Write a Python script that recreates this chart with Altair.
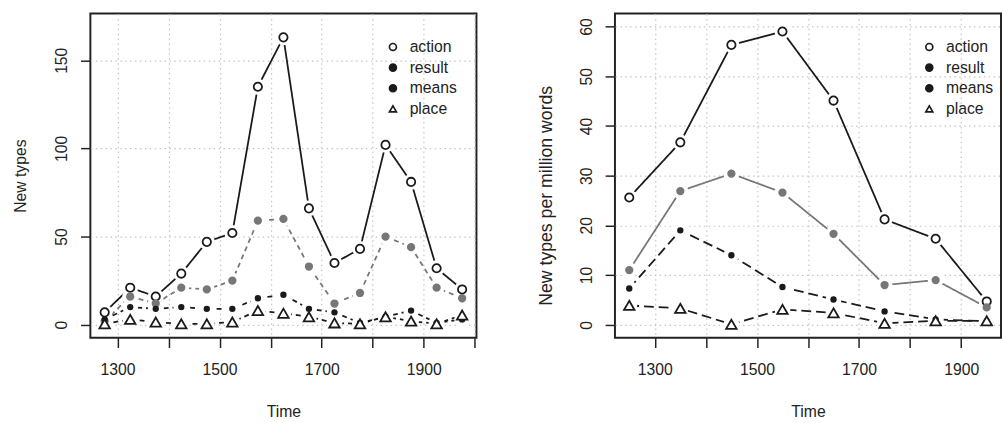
import altair as alt
import pandas as pd

# ---------------- data ----------------
series_names = ["action", "result", "means", "place"]

left_years = [1275, 1325, 1375, 1425, 1475, 1525, 1575, 1625, 1675, 1725, 1775, 1825, 1875, 1925, 1975]
left_action = [7, 21, 16, 29, 47, 52, 135, 163, 66, 35, 43, 102, 81, 32, 20]
left_result = [2, 16, 12, 21, 20, 25, 59, 60, 33, 12, 18, 50, 44, 21, 15]
left_means = [3, 10, 9, 10, 9, 9, 15, 17, 9, 7, 1, 4.5, 8, 1, 3]
left_place = [0.5, 3, 1.5, 0.5, 0.5, 1.5, 8, 6.5, 4.5, 1, 0.5, 4.5, 2, 0.5, 5.5]

right_years = [1250, 1350, 1450, 1550, 1650, 1750, 1850, 1950]
right_action = [25.6, 36.7, 56.3, 59.0, 45.1, 21.2, 17.3, 4.7]
right_result = [11.0, 26.9, 30.4, 26.6, 18.3, 8.0, 9.0, 3.5]
right_means = [7.3, 19.0, 14.0, 7.6, 5.1, 2.7, 1.1, 0.7]
right_place = [3.9, 3.3, 0.1, 3.1, 2.4, 0.3, 0.8, 0.8]

left_y_ticks = [0, 50, 100, 150]
right_y_ticks = [0, 10, 20, 30, 40, 50, 60]
left_x_ticks = [1300, 1400, 1500, 1600, 1700, 1800, 1900, 2000]
right_x_ticks = [1300, 1400, 1500, 1600, 1700, 1800, 1900]

FONT = "Liberation Sans"
TXT = "#222222"
INK = "#1a1a1a"
GRAY = "#777777"
HALO = "white"
W, H = 393, 330

STYLE = {
    "action": dict(shape="circle", size=72, fill="white", stroke=INK, line=INK),
    "result": dict(shape="circle", size=44, fill=GRAY, stroke=GRAY, line=GRAY),
    "means": dict(shape="circle", size=22, fill=INK, stroke=INK, line=INK),
    "place": dict(shape="triangle-up", size=115, fill="white", stroke=INK, line=INK),
}
LEG_FILL = {"action": "white", "result": INK, "means": INK, "place": "white"}


def panel(years, cols, xdom, ydom, xticks, yticks, ytitle, dashes, ytitle_x,
          ytitle_y, ytitle_size, legend_x):
    x = alt.X(
        "year:Q",
        scale=alt.Scale(domain=xdom, nice=False, zero=False),
        axis=alt.Axis(
            values=xticks, format="d",
            labelExpr="datum.value % 200 == 100 ? datum.label : ''",
            title="Time", titleX=W / 2, titleY=80, titleBaseline="alphabetic",
            titleAlign="center",
            tickSize=10, labelPadding=14, labelBaseline="top",
        ),
    )
    y = alt.Y(
        "value:Q",
        scale=alt.Scale(domain=ydom, nice=False, zero=False),
        axis=alt.Axis(
            values=yticks, labelAngle=270, labelAlign="center",
            labelBaseline="alphabetic", labelPadding=14, tickSize=10,
            title=ytitle, titleAngle=270, titleBaseline="alphabetic",
            titleAlign="center", titleX=ytitle_x, titleY=ytitle_y,
            titleFontSize=ytitle_size,
        ),
    )
    line_layers, halo_layers, pt_layers = [], [], []
    for name, vals, dash in zip(series_names, cols, dashes):
        st = STYLE[name]
        d = pd.DataFrame({"year": years, "value": vals})
        b = alt.Chart(d).encode(x=x, y=y)
        line_layers.append(
            b.mark_line(stroke=st["line"], strokeWidth=1.8, strokeDash=dash)
        )
        halo_layers.append(
            b.mark_circle(color=HALO, size=260, opacity=1)
        )
        pt_layers.append(
            b.mark_point(shape=st["shape"], filled=True, fill=st["fill"],
                         stroke=st["stroke"], strokeWidth=1.8, size=st["size"],
                         opacity=1)
        )

    leg_df = pd.DataFrame({"series": series_names})
    leg = alt.Legend(
        title=None, orient="none", legendX=legend_x, legendY=26,
        labelFont=FONT, labelFontSize=16, labelColor=TXT,
        rowPadding=5, labelOffset=9, symbolStrokeWidth=1.7, padding=0,
        symbolOpacity=1, symbolSize=50,
    )
    legend_layer = (
        alt.Chart(leg_df)
        .transform_filter("datum.series == 'none'")
        .mark_point(opacity=1, strokeWidth=1.7, filled=True)
        .encode(
            shape=alt.Shape("series:N", legend=leg, scale=alt.Scale(
                domain=series_names, range=[STYLE[s]["shape"] for s in series_names])),
            fill=alt.Fill("series:N", legend=leg, scale=alt.Scale(
                domain=series_names, range=[LEG_FILL[s] for s in series_names])),
            stroke=alt.Stroke("series:N", legend=leg, scale=alt.Scale(
                domain=series_names, range=[INK] * 4)),
        )
    )
    return (
        alt.layer(*line_layers, *halo_layers, *pt_layers, legend_layer)
        .properties(width=W, height=H)
    )


left = panel(left_years, [left_action, left_result, left_means, left_place],
             [1247, 2003], [-7.4, 176.5], left_x_ticks, left_y_ticks,
             "New types", [[1, 0], [5, 4], [5, 4], [5, 4]], -66, 165, 16, 300)
right = panel(right_years, [right_action, right_result, right_means, right_place],
              [1222, 1978], [-2.6, 62.6], right_x_ticks, right_y_ticks,
              "New types per million words", [[1, 0], [1, 0], [10, 5], [10, 5]],
              -65, 185, 18, 312)

chart = (
    alt.hconcat(left, right, spacing=60)
    .resolve_scale(shape="independent", fill="independent", stroke="independent")
    .resolve_legend(shape="independent", fill="independent", stroke="independent")
    .properties(padding={"left": 12, "top": 9, "right": 0, "bottom": 0},
                background="white")
    .configure_view(stroke="#222222", strokeWidth=2)
    .configure_axis(
        domain=False, grid=True, gridColor="#c4c4c4", gridDash=[1.5, 3.5],
        gridWidth=1.2, tickColor="#222222", tickWidth=1.5,
        labelFont=FONT, labelFontSize=16, labelColor=TXT,
        titleFont=FONT, titleFontSize=16, titleColor=TXT, titleFontWeight="normal",
    )
)

chart.save("out.html", embed_options={"renderer": "svg", "actions": False})
